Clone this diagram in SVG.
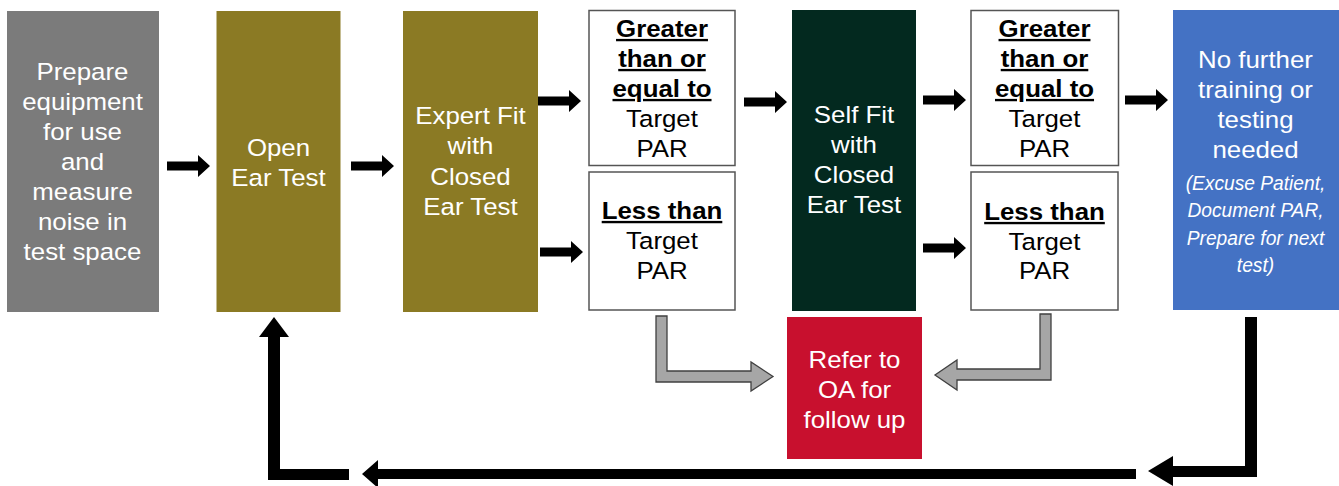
<svg xmlns="http://www.w3.org/2000/svg" width="1339" height="486" viewBox="0 0 1339 486">
<style>
.t{font-family:"Liberation Sans",Arial,sans-serif;font-size:23.5px;text-anchor:middle}
.w{fill:#ffffff}
.k{fill:#000000}
.b{font-weight:bold;text-decoration:underline}
.i{font-style:italic;font-size:20px}
.box{fill:#ffffff;stroke:#555555;stroke-width:1.5}
.blk{fill:#000000}
.gry{fill:#a6a6a6;stroke:#404040;stroke-width:1.3}
</style>
<defs>
<path id="ra" d="M0,-4.5 H31 V-11 L43,0 L31,11 V4.5 H0 Z"/>
</defs>
<rect width="1339" height="486" fill="#ffffff"/>

<g id="prepare">
<rect x="7" y="11" width="152" height="301" fill="#7b7b7b"/>
<g transform="translate(82.5 0) scale(1.1 1)" class="t w">
<text x="0" y="80">Prepare</text>
<text x="0" y="110">equipment</text>
<text x="0" y="140">for use</text>
<text x="0" y="170">and</text>
<text x="0" y="200">measure</text>
<text x="0" y="230">noise in</text>
<text x="0" y="260">test space</text>
</g>
</g>

<g id="open-ear">
<rect x="216.5" y="11" width="124" height="301" fill="#8b7a24"/>
<g transform="translate(278.5 0) scale(1.1 1)" class="t w">
<text x="0" y="156">Open</text>
<text x="0" y="186">Ear Test</text>
</g>
</g>

<g id="expert-fit">
<rect x="403" y="11" width="135" height="301" fill="#8b7a24"/>
<g transform="translate(470.5 0) scale(1.1 1)" class="t w">
<text x="0" y="124">Expert Fit</text>
<text x="0" y="154">with</text>
<text x="0" y="185">Closed</text>
<text x="0" y="215">Ear Test</text>
</g>
</g>

<g id="ge-1">
<rect class="box" x="589" y="10.5" width="146" height="155"/>
<g transform="translate(662 0) scale(1.1 1)" class="t k">
<text x="0" y="37" class="b">Greater</text>
<text x="0" y="67" class="b">than or</text>
<text x="0" y="97" class="b">equal to</text>
<text x="0" y="127">Target</text>
<text x="0" y="157">PAR</text>
</g>
</g>

<g id="lt-1">
<rect class="box" x="589" y="172" width="146" height="138"/>
<g transform="translate(662 0) scale(1.1 1)" class="t k">
<text x="0" y="219" class="b">Less than</text>
<text x="0" y="249">Target</text>
<text x="0" y="279">PAR</text>
</g>
</g>

<g id="self-fit">
<rect x="792" y="10" width="124" height="301" fill="#03291f"/>
<g transform="translate(854 0) scale(1.1 1)" class="t w">
<text x="0" y="123">Self Fit</text>
<text x="0" y="153">with</text>
<text x="0" y="183">Closed</text>
<text x="0" y="213">Ear Test</text>
</g>
</g>

<g id="ge-2">
<rect class="box" x="971" y="10.5" width="147.5" height="155"/>
<g transform="translate(1044.5 0) scale(1.1 1)" class="t k">
<text x="0" y="37" class="b">Greater</text>
<text x="0" y="67" class="b">than or</text>
<text x="0" y="97" class="b">equal to</text>
<text x="0" y="127">Target</text>
<text x="0" y="157">PAR</text>
</g>
</g>

<g id="lt-2">
<rect class="box" x="971" y="172" width="147" height="138"/>
<g transform="translate(1044.5 0) scale(1.1 1)" class="t k">
<text x="0" y="220" class="b">Less than</text>
<text x="0" y="250">Target</text>
<text x="0" y="279">PAR</text>
</g>
</g>

<g id="no-further">
<rect x="1173" y="10" width="166" height="300" fill="#4472c4"/>
<g transform="translate(1255.5 0) scale(1.1 1)" class="t w">
<text x="0" y="68">No further</text>
<text x="0" y="98">training or</text>
<text x="0" y="128">testing</text>
<text x="0" y="158">needed</text>
</g>
<g transform="translate(1255.5 0) scale(0.96 1)" class="t w i">
<text x="0" y="190">(Excuse Patient,</text>
<text x="0" y="217">Document PAR,</text>
<text x="0" y="245">Prepare for next</text>
<text x="0" y="272">test)</text>
</g>
</g>

<g id="refer-oa">
<rect x="787" y="317" width="135" height="142" fill="#c8102e"/>
<g transform="translate(854.5 0) scale(1.1 1)" class="t w">
<text x="0" y="368">Refer to</text>
<text x="0" y="398">OA for</text>
<text x="0" y="428">follow up</text>
</g>
</g>

<g id="connectors">
<use href="#ra" class="blk" transform="translate(167 166)"/>
<use href="#ra" class="blk" transform="translate(351 166)"/>
<use href="#ra" class="blk" transform="translate(538 101)"/>
<use href="#ra" class="blk" transform="translate(540 252)"/>
<use href="#ra" class="blk" transform="translate(744 102)"/>
<use href="#ra" class="blk" transform="translate(923 100)"/>
<use href="#ra" class="blk" transform="translate(923 248)"/>
<use href="#ra" class="blk" transform="translate(1125 100)"/>
<path class="gry" d="M656,316 H667 V371 H751 V362 L773,376.5 L751,391 V382 H656 Z"/>
<path class="gry" d="M1040,314 H1051 V380 H957 V390 L935,375 L957,360 V369 H1040 Z"/>
<path class="blk" d="M1245,317 H1257 V477 H1173 V486 L1148,471 L1173,456 V466 H1245 Z"/>
<path class="blk" d="M1136,469 V479 H378 V488 L362,474 L378,460 V469 Z"/>
<path class="blk" d="M349,469 V480 H268 V337 H259 L274,317 L289,337 H280 V469 Z"/>
</g>
</svg>
